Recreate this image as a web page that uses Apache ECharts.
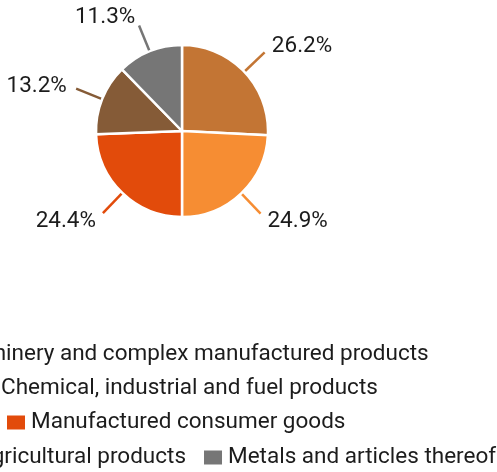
<!DOCTYPE html>
<html>
<head>
<meta charset="utf-8">
<script src="https://cdn.jsdelivr.net/npm/echarts@6/dist/echarts.min.js"></script>
<style>html,body{margin:0;padding:0;background:#fff}#c{width:497px;height:472px}</style>
</head>
<body>
<div id="c"></div>
<script>
const categories = [
  "Machinery and complex manufactured products",
  "Chemical, industrial and fuel products",
  "Manufactured consumer goods",
  "Agricultural products",
  "Metals and articles thereof"
];
// slice sizes as drawn in the picture
const sliceValues = [25.8, 24.2, 24.4, 13.3, 12.3];
// percentage labels as printed next to the slices
const sliceLabels = ["26.2%", "24.9%", "24.4%", "13.2%", "11.3%"];
const colors = ["#C37534", "#F68D33", "#E24B0B", "#855B37", "#767676"];
const legendRows = [
  [categories[0]],
  [categories[1]],
  [categories[2]],
  [categories[3], categories[4]]
];
const legendLeft = [-76, -25, 5, -49];
const legendTop = [343, 377, 411, 446];

// radial label offset (label sits a little beyond the end of its line)
const total = sliceValues.reduce((a, b) => a + b, 0);
let acc = 0;
const offsets = sliceValues.map(v => {
  const mid = (acc + v / 2) / total * 2 * Math.PI;
  acc += v;
  const k = 10;
  return [Math.sin(mid) * k, -Math.cos(mid) * k + 1];
});

const chart = echarts.init(document.getElementById('c'));
const textStyle = { fontFamily: 'Roboto', fontSize: 22.5, color: '#1c1c1c' };
chart.setOption({
  animation: false,
  color: colors,
  legend: legendRows.map((row, i) => ({
    data: row,
    left: legendLeft[i],
    top: legendTop[i],
    width: 800,
    orient: 'horizontal',
    itemWidth: 20,
    itemHeight: 16,
    itemGap: 16,
    icon: 'rect',
    textStyle: textStyle,
    padding: 0,
    selectedMode: false
  })),
  series: [{
    type: 'pie',
    center: [182, 131],
    radius: 86,
    startAngle: 90,
    clockwise: true,
    avoidLabelOverlap: false,
    itemStyle: { borderColor: '#fff', borderWidth: 2.5 },
    label: {
      show: true,
      formatter: p => sliceLabels[p.dataIndex],
      distanceToLabelLine: 0,
      fontFamily: 'Roboto', fontSize: 22.5, color: '#1c1c1c'
    },
    labelLine: { show: true, length: 28, length2: 0, lineStyle: { width: 2.5 } },
    emphasis: { disabled: true },
    data: categories.map((c, i) => ({ name: c, value: sliceValues[i], label: { offset: offsets[i] } }))
  }]
});
</script>
</body>
</html>
